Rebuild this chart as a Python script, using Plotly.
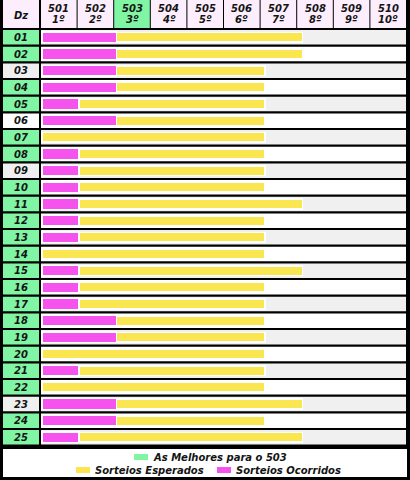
import plotly.graph_objects as go

# ---- data ----
dezenas = ["01","02","03","04","05","06","07","08","09","10","11","12","13",
           "14","15","16","17","18","19","20","21","22","23","24","25"]
ocorridos = [2,2,2,2,1,2,0,1,1,1,1,1,1,0,1,1,1,2,2,0,1,0,2,2,1]
esperados = [7,7,6,6,6,6,6,6,6,6,7,6,6,6,7,6,6,6,6,6,6,6,7,6,7]
melhores = [True,True,False,True,True,False,True,True,False,True,True,True,True,
            True,True,True,True,True,True,True,True,True,False,True,True]
col_numeros = ["501","502","503","504","505","506","507","508","509","510"]
col_ordem = ["1º","2º","3º","4º","5º","6º","7º","8º","9º","10º"]
coluna_destaque = "503"

W, H = 410, 480
GREEN = "#80F5A4"
YELLOW = "#FAE650"
MAGENTA = "#F552EE"
GRAY = "#F0F0F0"
PINK = "#FCEEFC"
TXT = "#141414"
FONT = "DejaVu Sans"

def xp(px):
    return px / W

def yp(py):
    return 1 - py / H

restantes = [e - o for e, o in zip(esperados, ocorridos)]
mag_vals = [o if o > 0 else None for o in ocorridos]

fig = go.Figure()
fig.add_trace(go.Bar(
    y=dezenas, x=mag_vals, orientation="h", name="Sorteios Ocorridos",
    marker=dict(color=MAGENTA, line=dict(color="white", width=1.5)), width=0.64,
    showlegend=False, hoverinfo="skip"))
fig.add_trace(go.Bar(
    y=dezenas, x=restantes, orientation="h", name="Sorteios Esperados",
    marker=dict(color=YELLOW, line=dict(color="white", width=1.5)), width=0.58,
    showlegend=False, hoverinfo="skip"))

shapes = []
annotations = []
n = len(dezenas)
g = 0.065
for i, dz in enumerate(dezenas):
    row_bg = GRAY if i % 2 == 0 else "white"
    shapes.append(dict(type="rect", xref="paper", yref="y", layer="below",
                       x0=xp(41), x1=xp(406), y0=i - 0.5 + g, y1=i + 0.5 - g,
                       fillcolor=row_bg, line=dict(width=0)))
    shapes.append(dict(type="rect", xref="paper", yref="y", layer="below",
                       x0=xp(3), x1=xp(39), y0=i - 0.5 + g, y1=i + 0.5 - g,
                       fillcolor=GREEN if melhores[i] else row_bg, line=dict(width=0)))
    annotations.append(dict(xref="paper", yref="y", x=xp(21), y=i, text="<b><i>%s</i></b>" % dz,
                            showarrow=False, font=dict(family=FONT, size=10, color=TXT),
                            xanchor="center", yanchor="middle"))

# header
shapes.append(dict(type="rect", xref="paper", yref="paper", x0=xp(3), x1=xp(39),
                   y0=yp(28), y1=yp(0), fillcolor=PINK, line=dict(width=0)))
annotations.append(dict(xref="paper", yref="paper", x=xp(21), y=yp(15), text="<b><i>Dz</i></b>",
                        showarrow=False, font=dict(family=FONT, size=10, color=TXT),
                        xanchor="center", yanchor="middle"))
colw = 36.6
for k, (num, ordem) in enumerate(zip(col_numeros, col_ordem)):
    x0 = 40 + colw * k + 1
    x1 = 40 + colw * (k + 1)
    shapes.append(dict(type="rect", xref="paper", yref="paper", x0=xp(x0), x1=xp(x1),
                       y0=yp(28), y1=yp(0),
                       fillcolor=GREEN if num == coluna_destaque else PINK, line=dict(width=0)))
    cx = (x0 + x1) / 2
    annotations.append(dict(xref="paper", yref="paper", x=xp(cx), y=yp(8), text="<b><i>%s</i></b>" % num,
                            showarrow=False, font=dict(family=FONT, size=10, color=TXT),
                            xanchor="center", yanchor="middle"))
    annotations.append(dict(xref="paper", yref="paper", x=xp(cx), y=yp(20), text="<b><i>%s</i></b>" % ordem,
                            showarrow=False, font=dict(family=FONT, size=10, color=TXT),
                            xanchor="center", yanchor="middle"))

# legend box
shapes.append(dict(type="rect", xref="paper", yref="paper", x0=xp(3), x1=xp(407),
                   y0=yp(477), y1=yp(449), fillcolor="white", line=dict(width=0)))
legend_items = [
    (GREEN, "As Melhores para o %s" % coluna_destaque, 134, 457),
    (YELLOW, fig.data[1].name, 76, 470),
    (MAGENTA, fig.data[0].name, 217, 470),
]
for color, label, sx, sy in legend_items:
    shapes.append(dict(type="rect", xref="paper", yref="paper", x0=xp(sx), x1=xp(sx + 14),
                       y0=yp(sy + 3), y1=yp(sy - 3), fillcolor=color, line=dict(width=0)))
    annotations.append(dict(xref="paper", yref="paper", x=xp(sx + 17), y=yp(sy),
                            text="<b><i>%s</i></b>" % label, showarrow=False,
                            font=dict(family=FONT, size=10, color=TXT),
                            xanchor="left", yanchor="middle"))

px_per_unit = 37.2
fig.update_layout(
    width=W, height=H, margin=dict(l=0, r=0, t=0, b=0),
    paper_bgcolor="black", plot_bgcolor="black",
    barmode="stack", bargap=0.4, showlegend=False,
    xaxis=dict(domain=[xp(40), xp(406)], range=[-2 / px_per_unit, 364 / px_per_unit], showgrid=False,
               zeroline=False, showticklabels=False, ticks="", fixedrange=True),
    yaxis=dict(domain=[yp(445.7), yp(29)], type="category", categoryorder="array",
               categoryarray=dezenas, range=[n - 0.5, -0.5], showgrid=False, zeroline=False,
               showticklabels=False, ticks="", fixedrange=True),
    shapes=shapes, annotations=annotations,
)

fig.write_html("out.html")
